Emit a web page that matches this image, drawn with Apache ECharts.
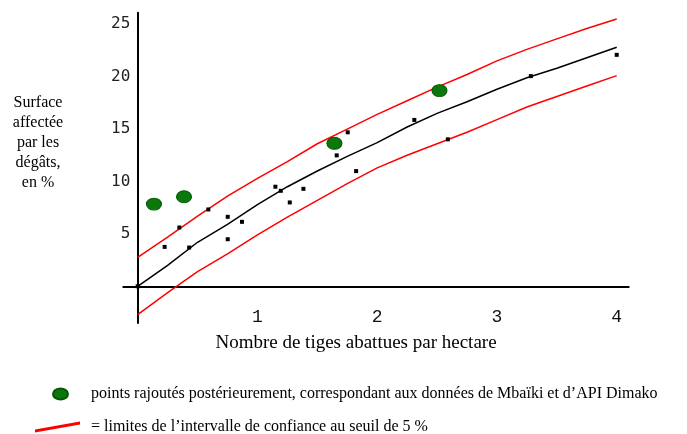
<!DOCTYPE html>
<html>
<head>
<meta charset="utf-8">
<script src="https://cdn.jsdelivr.net/npm/echarts@6/dist/echarts.min.js"></script>
<style>
  html, body { margin: 0; padding: 0; background: #fff; }
  #chart { width: 687px; height: 434px; }
</style>
</head>
<body>
<div id="chart"></div>
<script>
// points observés (petits carrés noirs)
const obsX = [0, 0.225, 0.348, 0.43, 0.59, 0.752, 0.752, 0.871, 1.15, 1.195, 1.27, 1.384, 1.662, 1.754, 1.824, 2.31, 2.59, 3.283, 4.0]
const obsY = [0, 3.76, 5.61, 3.7, 7.33, 6.63, 4.49, 6.15, 9.5, 9.11, 8.0, 9.3, 12.49, 14.69, 10.99, 15.87, 14.02, 20.05, 22.08]

// points rajoutés (verts)
const addX = [0.136, 0.387, 1.643, 2.52]
const addY = [7.84, 8.54, 13.64, 18.67]

// courbe ajustée et limites de confiance
const curveX = [0, 0.25, 0.5, 0.75, 1, 1.25, 1.5, 1.75, 2, 2.25, 2.5, 2.75, 3, 3.25, 3.5, 3.75, 4]
const fitY = [0, 2.0, 4.2, 5.9, 7.8, 9.5, 11.0, 12.4, 13.7, 15.2, 16.5, 17.6, 18.8, 19.9, 20.8, 21.8, 22.8]
const upperY = [2.75, 4.7, 6.7, 8.6, 10.3, 11.9, 13.6, 15.0, 16.4, 17.7, 19.0, 20.2, 21.5, 22.6, 23.6, 24.6, 25.5]
const lowerY = [-2.7, -0.6, 1.4, 3.1, 4.9, 6.6, 8.2, 9.8, 11.3, 12.5, 13.6, 14.7, 15.9, 17.1, 18.1, 19.1, 20.1]

// graduations
const xTicks = [1, 2, 3, 4]
const yTicks = [5, 10, 15, 20, 25]

const ADD_NAME = 'points rajoutés postérieurement, correspondant aux données de Mbaïki et d’API Dimako'
const LIMIT_NAME = '= limites de l’intervalle de confiance au seuil de 5 %'
const ELLIPSE = 'path://M0,5.5A7.5,5.5 0 1,0 15,5.5A7.5,5.5 0 1,0 0,5.5Z'

const pairs = (xs, ys) => xs.map((x, i) => [x, ys[i]])

const myChart = echarts.init(document.querySelector('#chart'))
const option = {
  animation: false,
  backgroundColor: '#fff',
  grid: {
    left: 123.3,
    right: 58.3,
    top: 12.7,
    bottom: 111
  },
  xAxis: {
    type: 'value',
    min: -0.12,
    max: 4.1,
    splitLine: { show: false },
    axisTick: { show: false },
    axisLine: {
      onZero: true,
      lineStyle: { color: '#000', width: 2 }
    },
    // étiquettes placées sous la ligne du zéro
    axisLabel: {
      customValues: xTicks,
      margin: -15,
      color: '#111',
      fontFamily: 'Liberation Mono',
      fontSize: 18
    }
  },
  yAxis: {
    type: 'value',
    min: -3.5,
    max: 26.1,
    splitLine: { show: false },
    axisTick: { show: false },
    axisLine: {
      onZero: true,
      lineStyle: { color: '#000', width: 2 }
    },
    axisLabel: {
      customValues: yTicks,
      margin: -7,
      color: '#222',
      fontFamily: 'DejaVu Sans Mono',
      fontSize: 16
    }
  },
  // titres des axes
  graphic: [
    {
      type: 'text',
      x: 38,
      y: 143,
      style: {
        text: 'Surface\naffectée\npar les\ndégâts,\nen %',
        textAlign: 'center',
        textVerticalAlign: 'middle',
        lineHeight: 20,
        fontFamily: 'Liberation Serif',
        fontSize: 16,
        fill: '#000'
      }
    },
    {
      type: 'text',
      x: 356,
      y: 343,
      style: {
        text: 'Nombre de tiges abattues par hectare',
        textAlign: 'center',
        textVerticalAlign: 'middle',
        fontFamily: 'Liberation Serif',
        fontSize: 19,
        fill: '#000'
      }
    }
  ],
  legend: [
    {
      data: [{ name: ADD_NAME, icon: ELLIPSE }],
      left: 47,
      top: 381,
      itemWidth: 15,
      itemHeight: 11,
      selectedMode: false,
      textStyle: {
        fontFamily: 'Liberation Serif',
        fontSize: 16,
        color: '#000',
        padding: [0, 0, 0, 18]
      }
    },
    {
      data: [{ name: LIMIT_NAME, icon: 'path://M0,8L45,0L45,3L0,11Z' }],
      left: 30,
      top: 414,
      itemWidth: 45,
      itemHeight: 11,
      selectedMode: false,
      textStyle: {
        fontFamily: 'Liberation Serif',
        fontSize: 16,
        color: '#000',
        padding: [0, 0, 0, 6]
      }
    }
  ],
  series: [
    {
      name: LIMIT_NAME,
      type: 'line',
      data: pairs(curveX, upperY),
      showSymbol: false,
      symbol: 'none',
      silent: true,
      itemStyle: { color: '#ff0000' },
      lineStyle: { color: '#ff0000', width: 1.5 }
    },
    {
      name: LIMIT_NAME,
      type: 'line',
      data: pairs(curveX, lowerY),
      showSymbol: false,
      symbol: 'none',
      silent: true,
      itemStyle: { color: '#ff0000' },
      lineStyle: { color: '#ff0000', width: 1.5 }
    },
    {
      name: 'ajustement',
      type: 'line',
      data: pairs(curveX, fitY),
      showSymbol: false,
      symbol: 'none',
      silent: true,
      lineStyle: { color: '#000', width: 1.5 }
    },
    {
      name: 'observations',
      type: 'scatter',
      data: pairs(obsX, obsY),
      symbol: 'rect',
      symbolSize: 4,
      itemStyle: { color: '#000', opacity: 1 },
      z: 5
    },
    {
      name: ADD_NAME,
      type: 'scatter',
      data: pairs(addX, addY),
      symbol: ELLIPSE,
      symbolSize: [15, 12],
      itemStyle: { color: '#0a780a', borderColor: '#065806', borderWidth: 1, opacity: 1 },
      z: 6
    }
  ]
}
myChart.setOption(option)
</script>
</body>
</html>
